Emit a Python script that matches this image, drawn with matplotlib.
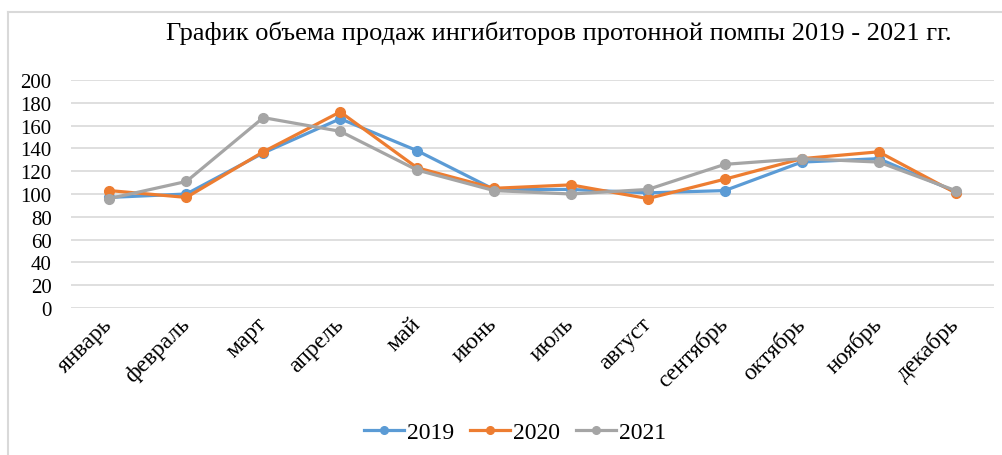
import matplotlib
matplotlib.use("Agg")
import matplotlib.pyplot as plt
from matplotlib.lines import Line2D

months = ["январь", "февраль", "март", "апрель", "май", "июнь",
          "июль", "август", "сентябрь", "октябрь", "ноябрь", "декабрь"]
s2019 = [97, 100, 136, 166, 138, 104, 104, 101, 103, 128, 131, 102]
s2020 = [103, 97, 137, 172, 123, 105, 108, 96, 113, 131, 137, 101]
s2021 = [96, 111, 167, 155, 121, 103, 100, 104, 126, 131, 128, 103]
series = [("2019", s2019, "#5B9BD5"), ("2020", s2020, "#ED7D31"), ("2021", s2021, "#A5A5A5")]
yticks = list(range(0, 201, 20))
title = "График объема продаж ингибиторов протонной помпы 2019 - 2021 гг."

plt.rcParams['font.family'] = ['Liberation Serif', 'DejaVu Serif']

W, H = 1002, 456
fig = plt.figure(figsize=(W / 100, H / 100), dpi=100)
ax = fig.add_axes([71 / W, 1 - 309 / H, (994 - 71) / W, (309 - 81) / H])

x = list(range(len(months)))
for name, vals, col in series:
    ax.plot(x, vals, color=col, lw=2.3, marker='o', ms=7, label=name, zorder=3)

ax.set_xlim(-0.5, len(months) - 0.5)
ax.set_ylim(0, 200)
ax.set_yticks(yticks)
ax.set_yticklabels([str(v) for v in yticks], fontsize=15)
ax.set_xticks(x)
ax.set_xticklabels(months, rotation=45, ha='right', va='center', rotation_mode='anchor', fontsize=17)
ax.tick_params(axis='both', length=0)
ax.tick_params(axis='y', pad=14)
ax.tick_params(axis='x', pad=9)
ax.grid(axis='y', color='#D9D9D9', lw=1.2)
ax.set_axisbelow(True)
for sp in ax.spines.values():
    sp.set_visible(False)

fig.text(559 / W, 1 - 33 / H, title, ha='center', va='center', fontsize=19)

handles = [Line2D([0], [0], color=c, lw=2.3, marker='o', ms=5.5) for _, _, c in series]
fig.legend(handles, [n for n, _, _ in series], loc='center', bbox_to_anchor=(515 / W, 1 - 433 / H),
           ncol=3, frameon=False, fontsize=17, handlelength=1.7, handletextpad=0.1, columnspacing=0.7)

# chart frame (left and top edges visible)
fig.add_artist(Line2D([7.5 / W, 7.5 / W], [0, 1 - 12.5 / H], color='#D9D9D9', lw=1.5, transform=fig.transFigure))
fig.add_artist(Line2D([7.5 / W, 1], [1 - 12.5 / H, 1 - 12.5 / H], color='#D9D9D9', lw=1.5, transform=fig.transFigure))

fig.savefig("out.png", dpi=100)
